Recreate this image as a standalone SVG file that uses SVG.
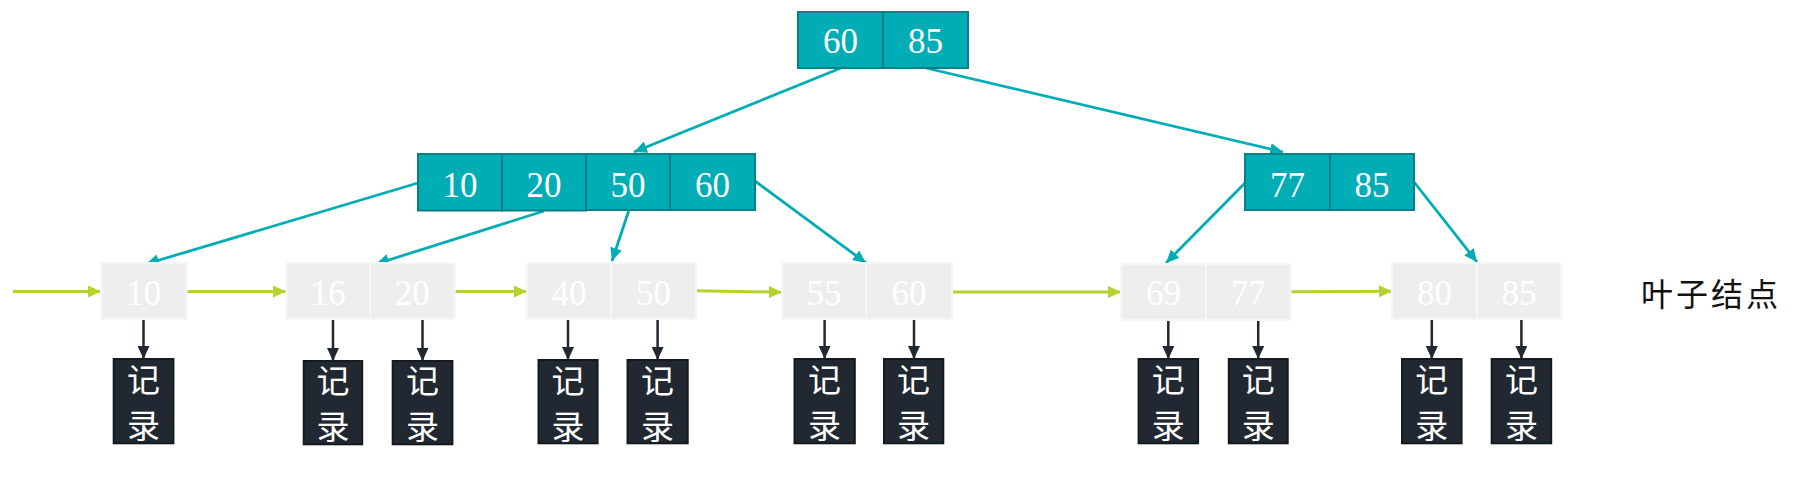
<svg xmlns="http://www.w3.org/2000/svg" width="1806" height="492" viewBox="0 0 1806 492">
<style>
.tc{fill:#00adb5;stroke:#0a7f87;stroke-width:2}
.lc{fill:#eeeeee;stroke:#f6f6f6;stroke-width:2}
.rc{fill:#222831;stroke:#161a1f;stroke-width:2}
.num{font-family:"Liberation Serif","Times New Roman",serif;font-size:35px;fill:#ffffff;text-anchor:middle}
.cjk{font-family:"Noto Sans CJK SC","Noto Sans CJK JP",sans-serif;font-size:33px;fill:#ffffff;text-anchor:middle}
.lab{font-family:"Noto Sans CJK SC","Noto Sans CJK JP",sans-serif;font-size:32px;fill:#111111;letter-spacing:3px}
.teal{stroke:#00adb5;stroke-width:2.8;fill:none}
.green{stroke:#b8d12e;stroke-width:3;fill:none}
.dark{stroke:#222831;stroke-width:2.5;fill:none}
</style>
<defs>
<marker id="aT" markerUnits="userSpaceOnUse" markerWidth="14" markerHeight="12" refX="13" refY="6" orient="auto"><path d="M0,0 L13,6 L0,12 Z" fill="#00adb5"/></marker>
<marker id="aG" markerUnits="userSpaceOnUse" markerWidth="14" markerHeight="12" refX="13" refY="6" orient="auto"><path d="M0,0 L13,6 L0,12 Z" fill="#b8d12e"/></marker>
<marker id="aD" markerUnits="userSpaceOnUse" markerWidth="14" markerHeight="12" refX="13" refY="6" orient="auto"><path d="M0,0 L13,6 L0,12 Z" fill="#222831"/></marker>
</defs>

<g id="connectors">
<line class="teal" x1="841" y1="68" x2="634" y2="152" marker-end="url(#aT)"/>
<line class="teal" x1="926" y1="68" x2="1283" y2="152" marker-end="url(#aT)"/>
<line class="teal" x1="418" y1="183" x2="146" y2="264" marker-end="url(#aT)"/>
<line class="teal" x1="544" y1="211" x2="376" y2="264" marker-end="url(#aT)"/>
<line class="teal" x1="629" y1="210" x2="612" y2="261" marker-end="url(#aT)"/>
<line class="teal" x1="755" y1="181" x2="866" y2="263" marker-end="url(#aT)"/>
<line class="teal" x1="1245" y1="183" x2="1166" y2="263" marker-end="url(#aT)"/>
<line class="teal" x1="1414" y1="182" x2="1477" y2="262" marker-end="url(#aT)"/>

<line class="green" x1="13" y1="291.5" x2="101" y2="291.5" marker-end="url(#aG)"/>
<line class="green" x1="187" y1="291.5" x2="286" y2="291.5" marker-end="url(#aG)"/>
<line class="green" x1="455" y1="291.5" x2="527" y2="291.5" marker-end="url(#aG)"/>
<line class="green" x1="696" y1="290.8" x2="782" y2="292.2" marker-end="url(#aG)"/>
<line class="green" x1="952" y1="292" x2="1121" y2="292" marker-end="url(#aG)"/>
<line class="green" x1="1291" y1="291.7" x2="1392" y2="291.3" marker-end="url(#aG)"/>

<line class="dark" x1="143.5" y1="320" x2="143.5" y2="359" marker-end="url(#aD)"/>
<line class="dark" x1="333" y1="320" x2="333" y2="361" marker-end="url(#aD)"/>
<line class="dark" x1="422.5" y1="320" x2="422.5" y2="361" marker-end="url(#aD)"/>
<line class="dark" x1="568" y1="320" x2="568" y2="360" marker-end="url(#aD)"/>
<line class="dark" x1="657.6" y1="320" x2="657.6" y2="360" marker-end="url(#aD)"/>
<line class="dark" x1="824.6" y1="320" x2="824.6" y2="359" marker-end="url(#aD)"/>
<line class="dark" x1="914" y1="320" x2="914" y2="359" marker-end="url(#aD)"/>
<line class="dark" x1="1168.3" y1="320" x2="1168.3" y2="359" marker-end="url(#aD)"/>
<line class="dark" x1="1258.2" y1="320" x2="1258.2" y2="359" marker-end="url(#aD)"/>
<line class="dark" x1="1431.8" y1="320" x2="1431.8" y2="359" marker-end="url(#aD)"/>
<line class="dark" x1="1521.4" y1="320" x2="1521.4" y2="359" marker-end="url(#aD)"/>
</g>

<g id="root">
<rect class="tc" x="798" y="12" width="85" height="56"/>
<rect class="tc" x="883" y="12" width="85" height="56"/>
<text class="num" x="840.5" y="53">60</text>
<text class="num" x="925.5" y="53">85</text>
</g>

<g id="inner-left">
<rect class="tc" x="418" y="154" width="84" height="56.5"/>
<rect class="tc" x="502" y="154" width="84" height="56.5"/>
<rect class="tc" x="586" y="154" width="84" height="56"/>
<rect class="tc" x="670" y="154" width="85" height="56"/>
<text class="num" x="460" y="196.5">10</text>
<text class="num" x="544" y="196.5">20</text>
<text class="num" x="628" y="196.5">50</text>
<text class="num" x="712.5" y="196.5">60</text>
</g>

<g id="inner-right">
<rect class="tc" x="1245" y="154" width="85" height="56"/>
<rect class="tc" x="1330" y="154" width="84" height="56"/>
<text class="num" x="1287.5" y="196.5">77</text>
<text class="num" x="1372" y="196.5">85</text>
</g>

<g id="leaf-1">
<rect class="lc" x="101" y="263" width="85.6" height="56"/>
<text class="num" x="143.8" y="304.5">10</text>
</g>
<g id="leaf-2">
<rect class="lc" x="286.5" y="263" width="83.5" height="56"/>
<rect class="lc" x="370" y="263" width="84.6" height="56"/>
<text class="num" x="328.2" y="304.5">16</text>
<text class="num" x="412.3" y="304.5">20</text>
</g>
<g id="leaf-3">
<rect class="lc" x="527" y="263" width="84" height="56"/>
<rect class="lc" x="611" y="263" width="85" height="56"/>
<text class="num" x="569" y="304.5">40</text>
<text class="num" x="653.5" y="304.5">50</text>
</g>
<g id="leaf-4">
<rect class="lc" x="782" y="263" width="84" height="56"/>
<rect class="lc" x="866" y="263" width="86" height="56"/>
<text class="num" x="824" y="304.5">55</text>
<text class="num" x="909" y="304.5">60</text>
</g>
<g id="leaf-5">
<rect class="lc" x="1121" y="264" width="85" height="56"/>
<rect class="lc" x="1206" y="264" width="84.6" height="56"/>
<text class="num" x="1163.5" y="305">69</text>
<text class="num" x="1248.3" y="305">77</text>
</g>
<g id="leaf-6">
<rect class="lc" x="1392" y="263" width="85" height="56"/>
<rect class="lc" x="1477" y="263" width="84" height="56"/>
<text class="num" x="1434.5" y="304.5">80</text>
<text class="num" x="1519" y="304.5">85</text>
</g>

<g id="rec-1"><rect class="rc" x="113.7" y="359" width="59.7" height="84.3"/><text class="cjk" x="143.5" y="392">记</text><text class="cjk" x="143.5" y="438">录</text></g>
<g id="rec-2"><rect class="rc" x="303.7" y="361" width="58.5" height="83.3"/><text class="cjk" x="333" y="393">记</text><text class="cjk" x="333" y="439">录</text></g>
<g id="rec-3"><rect class="rc" x="392.7" y="361" width="59.7" height="83.3"/><text class="cjk" x="422.5" y="393">记</text><text class="cjk" x="422.5" y="439">录</text></g>
<g id="rec-4"><rect class="rc" x="538.5" y="360" width="59.1" height="83.3"/><text class="cjk" x="568" y="392.5">记</text><text class="cjk" x="568" y="438.5">录</text></g>
<g id="rec-5"><rect class="rc" x="627.5" y="360" width="60.2" height="83.3"/><text class="cjk" x="657.6" y="392.5">记</text><text class="cjk" x="657.6" y="438.5">录</text></g>
<g id="rec-6"><rect class="rc" x="794.5" y="359" width="60.3" height="84.3"/><text class="cjk" x="824.6" y="392">记</text><text class="cjk" x="824.6" y="438">录</text></g>
<g id="rec-7"><rect class="rc" x="884" y="359" width="59.3" height="84.3"/><text class="cjk" x="913.6" y="392">记</text><text class="cjk" x="913.6" y="438">录</text></g>
<g id="rec-8"><rect class="rc" x="1138.6" y="359" width="59.5" height="84.3"/><text class="cjk" x="1168.3" y="392">记</text><text class="cjk" x="1168.3" y="438">录</text></g>
<g id="rec-9"><rect class="rc" x="1228.8" y="359" width="58.9" height="84.3"/><text class="cjk" x="1258.2" y="392">记</text><text class="cjk" x="1258.2" y="438">录</text></g>
<g id="rec-10"><rect class="rc" x="1402" y="359" width="59.6" height="84.3"/><text class="cjk" x="1431.8" y="392">记</text><text class="cjk" x="1431.8" y="438">录</text></g>
<g id="rec-11"><rect class="rc" x="1491.7" y="359" width="59.5" height="84.3"/><text class="cjk" x="1521.4" y="392">记</text><text class="cjk" x="1521.4" y="438">录</text></g>

<g id="leaf-label">
<text class="lab" x="1641" y="306">叶子结点</text>
</g>
</svg>
